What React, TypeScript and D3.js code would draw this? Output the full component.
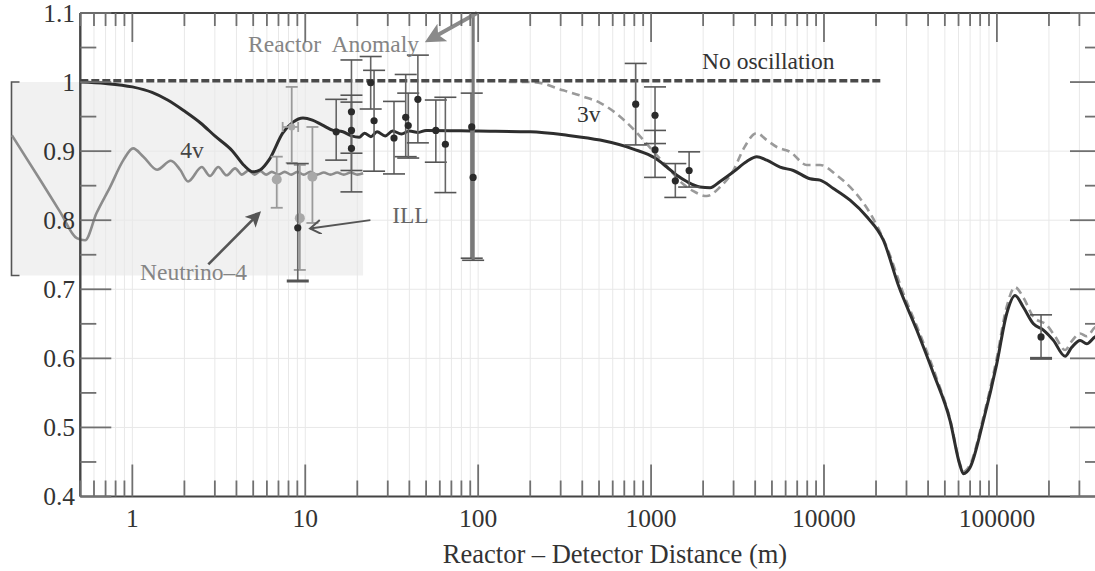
import React from 'react';
import * as d3 from 'd3';

// ---------- data ----------
const xTickValues = [1, 10, 100, 1000, 10000, 100000];
const xTickLabels = ['1', '10', '100', '1000', '10000', '100000'];
const yTickValues = [0.4, 0.5, 0.6, 0.7, 0.8, 0.9, 1.0, 1.1];
const yTickLabels = ['0.4', '0.5', '0.6', '0.7', '0.8', '0.9', '1', '1.1'];

const noOscillation: [number, number][] = [[0.5, 1.002], [22000, 1.002]];

const curveSolid: [number, number][] = [
  [0.5, 1.0], [0.7, 0.998], [1.0, 0.993], [1.3, 0.985], [1.6, 0.974], [2.0, 0.958],
  [2.5, 0.94], [3.0, 0.922], [3.8, 0.9], [4.4, 0.88], [5.0, 0.87], [5.5, 0.873],
  [6.2, 0.888], [7.4, 0.926], [8.5, 0.942], [9.7, 0.948], [11, 0.945], [12.5, 0.938],
  [14.5, 0.93], [16.5, 0.928], [18.5, 0.922], [20.5, 0.92], [22, 0.926], [24, 0.921],
  [26, 0.928], [29, 0.922], [32, 0.929], [36, 0.925], [40, 0.929], [45, 0.927],
  [50, 0.93], [100, 0.929], [200, 0.928], [327, 0.923], [507, 0.916], [790, 0.903],
  [1055, 0.89], [1233, 0.877], [1409, 0.865], [1608, 0.856], [1919, 0.848], [2194, 0.847],
  [2505, 0.856], [2993, 0.87], [3575, 0.885], [4083, 0.892], [4667, 0.887], [5572, 0.877],
  [6650, 0.872], [8310, 0.86], [9490, 0.858], [11330, 0.846], [14150, 0.829], [17690, 0.805],
  [22060, 0.771], [27000, 0.705], [34400, 0.641], [42980, 0.578], [53580, 0.51], [61200, 0.445],
  [63960, 0.433], [69940, 0.442], [83520, 0.51], [99800, 0.592], [114000, 0.665], [127400, 0.691],
  [142300, 0.674], [162600, 0.65], [185800, 0.641], [212300, 0.626], [247900, 0.603], [271100, 0.616],
  [302800, 0.626], [331100, 0.621], [369700, 0.631], [400000, 0.633],
];

const curveDashed: [number, number][] = [
  [150, 1.0], [208, 1.0], [311, 0.988], [406, 0.979], [507, 0.97], [633, 0.954], [790, 0.932],
  [986, 0.905], [1233, 0.878], [1538, 0.852], [1757, 0.842], [2100, 0.835], [2505, 0.848],
  [2993, 0.872], [3420, 0.903], [4083, 0.926], [4667, 0.916], [5333, 0.906], [6368, 0.899],
  [7948, 0.88], [9490, 0.88], [11860, 0.865], [14790, 0.843], [18490, 0.81], [23080, 0.761],
  [28780, 0.694], [35950, 0.635], [45000, 0.57], [53580, 0.512], [61200, 0.447], [63960, 0.436],
  [69940, 0.446], [83520, 0.515], [99800, 0.6], [114000, 0.675], [127400, 0.703], [142300, 0.688],
  [162600, 0.66], [194500, 0.648], [217000, 0.632], [247900, 0.612], [271100, 0.625], [302800, 0.636],
  [331100, 0.632], [369700, 0.645], [400000, 0.648],
];

const curve4nu: [number, number][] = [
  [0.201, 0.923], [0.292, 0.859], [0.382, 0.812], [0.477, 0.774], [0.533, 0.771], [0.62, 0.81],
  [0.743, 0.848], [0.887, 0.887], [1.01, 0.904], [1.158, 0.892], [1.39, 0.873], [1.67, 0.886],
  [1.89, 0.873], [2.1, 0.856], [2.52, 0.877], [2.81, 0.864], [3.14, 0.877], [3.51, 0.865],
  [3.93, 0.875], [4.3, 0.866], [4.7, 0.872], [5.1, 0.866], [5.5, 0.871], [5.95, 0.866],
  [6.4, 0.87], [7.0, 0.866], [7.6, 0.87], [8.3, 0.866], [9.0, 0.87], [9.8, 0.866],
  [10.7, 0.87], [11.7, 0.866], [12.8, 0.869], [14.0, 0.866], [15.3, 0.869], [16.7, 0.866],
  [18.3, 0.869], [20.0, 0.866], [21.6, 0.868],
];

// reactor experiments: [distance, ratio, low, high]
const reactorPoints: [number, number, number, number][] = [
  [9.05, 0.789, 0.712, 0.882],
  [15.1, 0.928, 0.887, 0.975],
  [18.5, 0.957, 0.897, 1.032],
  [18.5, 0.93, 0.872, 0.981],
  [18.5, 0.904, 0.841, 0.971],
  [23.9, 0.999, 0.961, 1.037],
  [25.0, 0.944, 0.871, 1.017],
  [32.6, 0.919, 0.867, 0.972],
  [38.1, 0.949, 0.892, 1.011],
  [39.4, 0.937, 0.89, 0.984],
  [44.8, 0.975, 0.912, 1.039],
  [56.9, 0.93, 0.884, 0.974],
  [64.6, 0.91, 0.84, 0.978],
  [91.8, 0.935, 0.745, 0.984],
  [93.5, 0.862, 0.742, 1.1],
  [815, 0.968, 0.909, 1.027],
  [1054, 0.952, 0.911, 0.993],
  [1054, 0.902, 0.862, 0.93],
  [1381, 0.857, 0.833, 0.882],
  [1660, 0.872, 0.848, 0.899],
  [180000, 0.631, 0.6, 0.663],
];

// Neutrino-4 / ILL grey points: [distance, ratio, low, high]
const greyPoints: [number, number, number, number][] = [
  [6.84, 0.859, 0.818, 0.892],
  [9.3, 0.803, 0.728, 0.88],
  [11.0, 0.863, 0.796, 0.935],
  [8.35, 0.935, 0.883, 0.993],
];
// horizontal error of the grey point at 8.35 m: [low, high, ratio]
const greyXErr: [number, number, number] = [7.4, 9.1, 0.935];

// shaded inset region: [xLow, xHigh, yLow, yHigh]
const insetBox = [0.2, 21.6, 0.72, 1.0];

// annotations [text, x, y, colour]
const annotations: [string, number, number, string][] = [
  ['Reactor  Anomaly', 4.67, 1.0435, '#858585'],
  ['No oscillation', 1972, 1.0188, '#333'],
  ['3v', 373, 0.942, '#333'],
  ['4v', 1.89, 0.89, '#444'],
  ['ILL', 31.8, 0.7957, '#666'],
  ['Neutrino\u20134', 1.108, 0.713, '#858585'],
];
// arrows [x1, y1, x2, y2] (tail -> head)
const arrowReactor = [98.6, 1.1, 52.7, 1.062];
const arrowNeutrino4 = [2.75, 0.736, 5.35, 0.809];
const arrowILL = [23.8, 0.8, 10.66, 0.788];

// ---------- chart ----------
const W = 1095;
const H = 571;
const x = d3.scaleLog().domain([0.5, 400000]).range([80.3, 1101]);
const y = d3.scaleLinear().domain([0.4, 1.1]).range([496.5, 13]);
const FONT = '"Liberation Serif", "Times New Roman", serif';

const lineGen = d3
  .line<[number, number]>()
  .x((d) => x(d[0]))
  .y((d) => y(d[1]))
  .curve(d3.curveMonotoneX);

function Arrow({ a, color, width, id }: { a: number[]; color: string; width: number; id: string }) {
  return (
    <line
      x1={x(a[0])}
      y1={y(a[1])}
      x2={x(a[2])}
      y2={y(a[3])}
      stroke={color}
      strokeWidth={width}
      markerEnd={`url(#${id})`}
    />
  );
}

export default function App() {
  const xAll = x.ticks();
  const isMajor = (v: number) => Math.abs(Math.log10(v) - Math.round(Math.log10(v))) < 1e-9;
  const yMinor = d3.range(0, 15).map((i) => 0.4 + i * 0.05);
  const x0 = x.range()[0];
  const x1 = x.range()[1];
  const yB = y.range()[0];
  const yT = y.range()[1];
  const capW = 11;

  return (
    <svg width={W} height={H} style={{ position: 'absolute', left: 0, top: 0, background: '#fff' }}>
      <defs>
        <marker id="headBig" markerWidth="5" markerHeight="5" refX="3.5" refY="2.5" orient="auto" markerUnits="strokeWidth">
          <path d="M0,0 L5,2.5 L0,5 L1.2,2.5 Z" fill="#8a8a8a" />
        </marker>
        <marker id="headDark" markerWidth="6" markerHeight="6" refX="4.5" refY="3" orient="auto" markerUnits="strokeWidth">
          <path d="M0,0 L6,3 L0,6 L1.5,3 Z" fill="#555" />
        </marker>
        <marker id="headThin" markerWidth="9" markerHeight="9" refX="7" refY="4" orient="auto" markerUnits="strokeWidth">
          <path d="M1,0 L7,4 L1,8" fill="none" stroke="#555" strokeWidth="1.1" />
        </marker>
      </defs>

      {/* shaded inset */}
      <rect
        x={x(insetBox[0])}
        y={y(insetBox[3])}
        width={x(insetBox[1]) - x(insetBox[0])}
        height={y(insetBox[2]) - y(insetBox[3])}
        fill="#f1f1f1"
      />
      <path
        d={`M${x(insetBox[0]) + 8},${y(insetBox[3])} H${x(insetBox[0])} V${y(insetBox[2])} H${x(insetBox[0]) + 8}`}
        fill="none"
        stroke="#555"
        strokeWidth={1.6}
      />

      {/* grid */}
      {xAll.map((v, i) => (
        <line key={'gx' + i} x1={x(v)} x2={x(v)} y1={yT} y2={yB} stroke="#e8e8e8" strokeWidth={1} />
      ))}
      {yTickValues.slice(1, 6).map((v, i) => (
        <line key={'gy' + i} x1={x0} x2={x1} y1={y(v)} y2={y(v)} stroke="#e8e8e8" strokeWidth={1} />
      ))}

      {/* curves */}
      <path d={lineGen(curve4nu) || ''} fill="none" stroke="#8c8c8c" strokeWidth={2.6} />
      <path d={lineGen(curveDashed) || ''} fill="none" stroke="#9a9a9a" strokeWidth={2.6} strokeDasharray="8 5" />
      <path d={lineGen(noOscillation) || ''} fill="none" stroke="#4a4a4a" strokeWidth={3.6} strokeDasharray="8 3" />
      <path d={lineGen(curveSolid) || ''} fill="none" stroke="#2e2e2e" strokeWidth={3} />

      {/* grey points */}
      {greyPoints.map((p, i) => (
        <g key={'gp' + i}>
          <line x1={x(p[0])} x2={x(p[0])} y1={y(p[2])} y2={y(p[3])} stroke="#9a9a9a" strokeWidth={1.8} />
          <line x1={x(p[0]) - 6} x2={x(p[0]) + 6} y1={y(p[2])} y2={y(p[2])} stroke="#9a9a9a" strokeWidth={1.8} />
          <line x1={x(p[0]) - 6} x2={x(p[0]) + 6} y1={y(p[3])} y2={y(p[3])} stroke="#9a9a9a" strokeWidth={1.8} />
        </g>
      ))}
      <g>
        <line x1={x(greyXErr[0])} x2={x(greyXErr[1])} y1={y(greyXErr[2])} y2={y(greyXErr[2])} stroke="#a0a0a0" strokeWidth={1.8} />
        <line x1={x(greyXErr[0])} x2={x(greyXErr[0])} y1={y(greyXErr[2]) - 5} y2={y(greyXErr[2]) + 5} stroke="#a0a0a0" strokeWidth={1.8} />
        <line x1={x(greyXErr[1])} x2={x(greyXErr[1])} y1={y(greyXErr[2]) - 5} y2={y(greyXErr[2]) + 5} stroke="#a0a0a0" strokeWidth={1.8} />
      </g>
      {greyPoints.map((p, i) => (
        <circle key={'gc' + i} cx={x(p[0])} cy={y(p[1])} r={i === 3 ? 3.5 : 5} fill="#a8a8a8" />
      ))}

      {/* reactor points */}
      {reactorPoints.map((p, i) => {
        const big = p[3] - p[2] > 0.2;
        const cx = x(p[0]);
        return (
          <g key={'rp' + i}>
            <line x1={cx} x2={cx} y1={y(p[2])} y2={y(p[3])} stroke={big ? '#7a7a7a' : '#666'} strokeWidth={big ? 3.2 : 1.6} />
            <line x1={cx - capW} x2={cx + capW} y1={y(p[2])} y2={y(p[2])} stroke="#555" strokeWidth={p[2] < 0.72 ? 3 : 1.6} />
            <line x1={cx - capW} x2={cx + capW} y1={y(p[3])} y2={y(p[3])} stroke="#555" strokeWidth={1.6} />
          </g>
        );
      })}
      {reactorPoints.map((p, i) => (
        <circle key={'rc' + i} cx={x(p[0])} cy={y(p[1])} r={3.6} fill="#2a2a2a" />
      ))}

      {/* arrows */}
      <Arrow a={arrowReactor} color="#8a8a8a" width={4} id="headBig" />
      <Arrow a={arrowNeutrino4} color="#555" width={2.6} id="headDark" />
      <Arrow a={arrowILL} color="#555" width={1.8} id="headThin" />

      {/* annotations */}
      {annotations.map((a, i) => (
        <text key={'an' + i} x={x(a[1])} y={y(a[2])} fontFamily={FONT} fontSize={23.5} fill={a[3]} style={{ whiteSpace: 'pre' }}>
          {a[0]}
        </text>
      ))}

      {/* axes frame */}
      <line x1={x0} x2={x1} y1={yB} y2={yB} stroke="#444" strokeWidth={2} />
      <line x1={x0} x2={x1} y1={yT} y2={yT} stroke="#444" strokeWidth={2} />
      <line x1={x0} x2={x0} y1={yT} y2={yB} stroke="#444" strokeWidth={2.4} />
      <line x1={x1} x2={x1} y1={yT} y2={yB} stroke="#444" strokeWidth={2} />

      {/* x ticks */}
      {xAll.map((v, i) => {
        const L = isMajor(v) ? 32 : 16;
        return (
          <g key={'xt' + i}>
            <line x1={x(v)} x2={x(v)} y1={yB} y2={yB - L} stroke="#707070" strokeWidth={1.8} />
            <line x1={x(v)} x2={x(v)} y1={yT} y2={yT + (isMajor(v) ? 29 : 13)} stroke="#707070" strokeWidth={1.8} />
          </g>
        );
      })}
      {/* y ticks */}
      {yMinor.map((v, i) => {
        const L = i % 2 === 0 ? 31 : 16;
        return (
          <g key={'yt' + i}>
            <line x1={x0} x2={x0 + L} y1={y(v)} y2={y(v)} stroke="#707070" strokeWidth={1.8} />
            <line x1={x1} x2={x1 - L} y1={y(v)} y2={y(v)} stroke="#707070" strokeWidth={1.8} />
          </g>
        );
      })}

      {/* tick labels */}
      {xTickValues.map((v, i) => (
        <text key={'xl' + i} x={x(v)} y={527} textAnchor="middle" fontFamily={FONT} fontSize={25.5} fill="#333">
          {xTickLabels[i]}
        </text>
      ))}
      {yTickValues.map((v, i) => (
        <text key={'yl' + i} x={75} y={y(v) + 8.5} textAnchor="end" fontFamily={FONT} fontSize={25.5} fill="#333">
          {yTickLabels[i]}
        </text>
      ))}
      <text x={615} y={563} textAnchor="middle" fontFamily={FONT} fontSize={26.5} fill="#333">
        Reactor – Detector Distance (m)
      </text>
    </svg>
  );
}
